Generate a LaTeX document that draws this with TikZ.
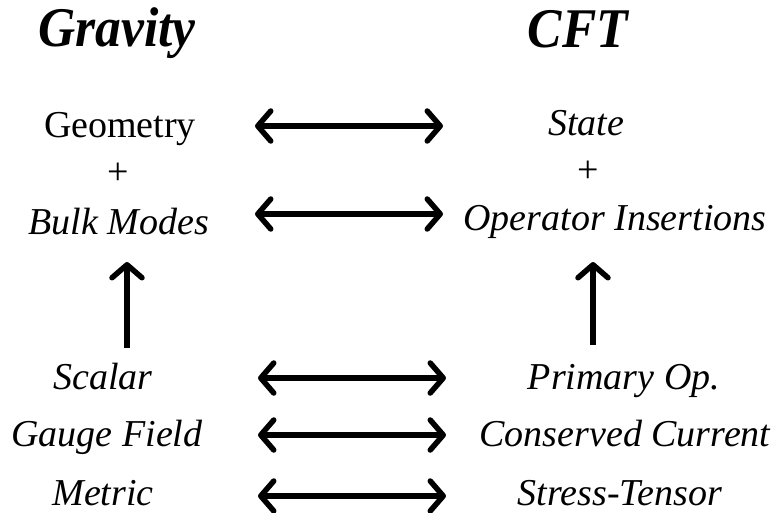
\documentclass[tikz,border=0pt]{standalone}
\usepackage{fontspec}
\setmainfont{Liberation Serif}
\usetikzlibrary{arrows.meta}
\tikzset{
  lbl/.style={font=\fontsize{38}{44}\selectfont, inner sep=0pt, anchor=base},
  ilbl/.style={lbl, font=\fontsize{38}{44}\selectfont\itshape},
  ttl/.style={inner sep=0pt, anchor=base, font=\fontsize{56}{62}\selectfont\bfseries\itshape},
  dbl/.style={line width=5.5pt, {Straight Barb[round,length=13pt,width=30pt]}-{Straight Barb[round,length=13pt,width=30pt]}},
  up/.style={line width=5.5pt, -{Straight Barb[round,length=13pt,width=30pt]}}
}
\begin{document}
\begin{tikzpicture}[x=1pt,y=-1pt]
\useasboundingbox (0,0) rectangle (774,512);
\node[ttl] (grav) at (117,46) {\scalebox{0.92}[1]{Gravity}};
\node[ttl] (cft) at (578,47) {\scalebox{0.92}[1]{CFT}};
\node[lbl] (geo) at (120,137) {Geometry};
\node[lbl] (p1) at (118,184) {+};
\node[ilbl] (bulk) at (119,234) {Bulk Modes};
\node[ilbl] (state) at (586,135) {State};
\node[lbl] (p2) at (588,182) {+};
\node[ilbl] (ops) at (615,230) {Operator Insertions};
\node[ilbl] (sc) at (103,389) {Scalar};
\node[ilbl] (gf) at (107,446) {Gauge Field};
\node[ilbl] (met) at (103,505) {Metric};
\node[ilbl] (prim) at (624,389) {Primary Op.};
\node[ilbl] (cc) at (625,446) {Conserved Current};
\node[ilbl] (st) at (620,505) {Stress-Tensor};
\coordinate (a1l) at (255,126); \coordinate (a1r) at (443,126);
\coordinate (a2l) at (255,214); \coordinate (a2r) at (443,214);
\coordinate (a3l) at (258,378); \coordinate (a3r) at (446,378);
\coordinate (a4l) at (258,435); \coordinate (a4r) at (446,435);
\coordinate (a5l) at (258,496); \coordinate (a5r) at (446,496);
\draw[dbl] (a1l) -- (a1r);
\draw[dbl] (a2l) -- (a2r);
\draw[dbl] (a3l) -- (a3r);
\draw[dbl] (a4l) -- (a4r);
\draw[dbl] (a5l) -- (a5r);
\coordinate (v1b) at (127,348); \coordinate (v1t) at (127,262);
\coordinate (v2b) at (593,345); \coordinate (v2t) at (593,262);
\draw[up] (v1b) -- (v1t);
\draw[up] (v2b) -- (v2t);
\end{tikzpicture}
\end{document}
